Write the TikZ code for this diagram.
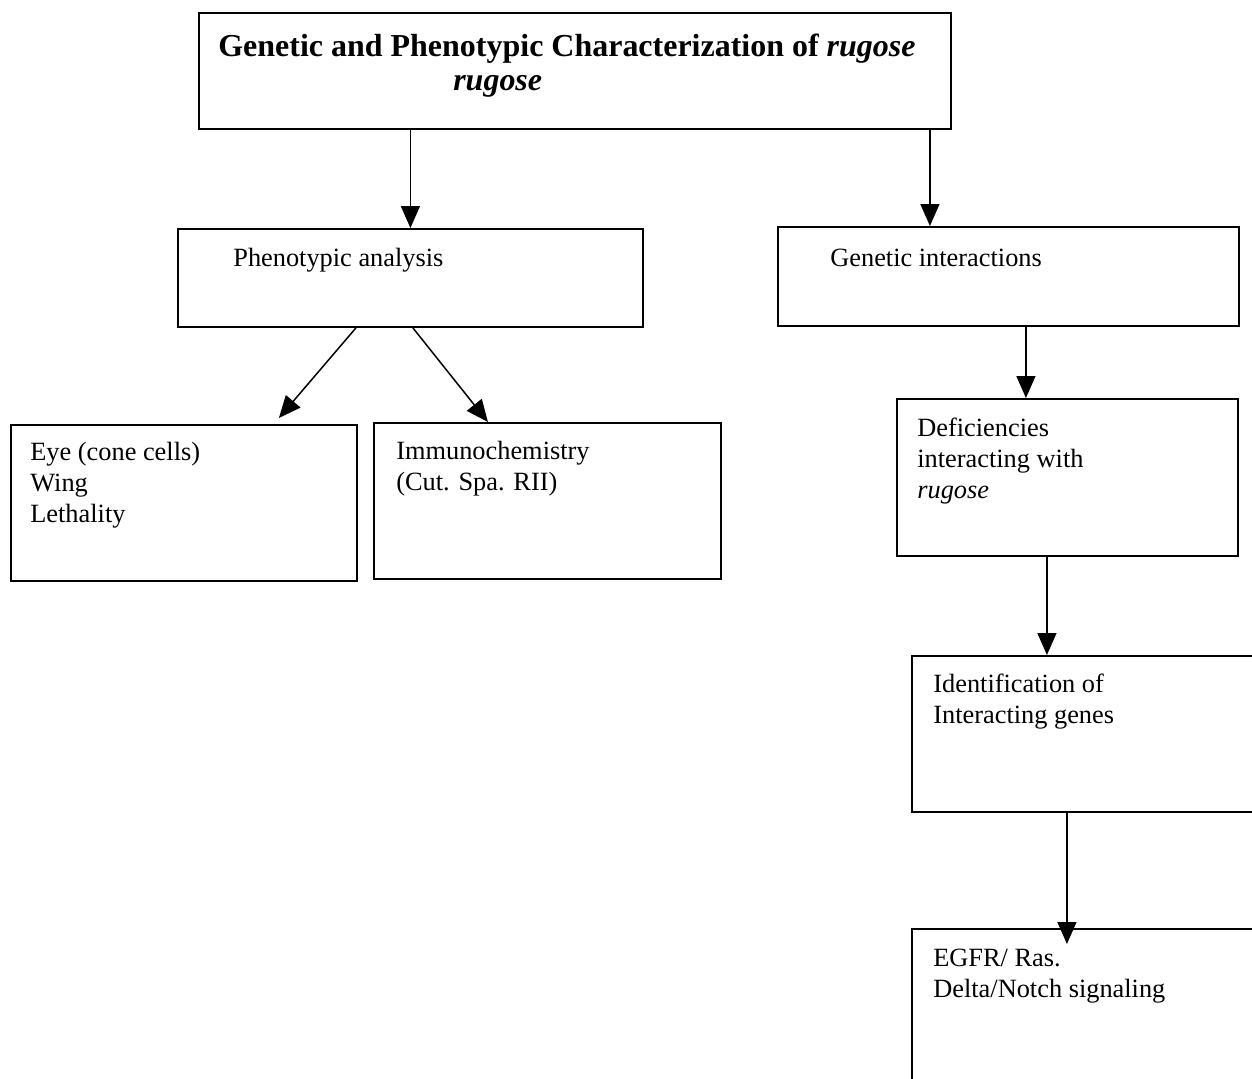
\documentclass[tikz,border=0pt]{standalone}
\usepackage{fontspec}
\setmainfont{Liberation Serif}
\usetikzlibrary{arrows.meta,calc}
\begin{document}
\begin{tikzpicture}[x=0.02cm,y=-0.02cm,
	khung/.style={rectangle, draw, line width=1.1pt, anchor=north west, inner sep=0pt},
	chu/.style={anchor=base west, align=left, inner sep=0pt, font=\fontsize{15}{17.6}\selectfont},
	mui/.style={-{Triangle[length=0.44cm,width=0.38cm]}, line width=0.85pt}]
				\useasboundingbox (0,0) rectangle (1252,1079);
				\path
				(198,12) node[khung, minimum width=15.04cm, minimum height=2.32cm](goc){}
				(177,228) node[khung, minimum width=9.3cm, minimum height=1.96cm](kh){}
				(777,226) node[khung, minimum width=9.22cm, minimum height=1.98cm](di){}
				(10,424) node[khung, minimum width=6.92cm, minimum height=3.12cm](mat){}
				(373,422) node[khung, minimum width=6.94cm, minimum height=3.12cm](mien){}
				(896,398) node[khung, minimum width=6.82cm, minimum height=3.14cm](thieu){}
				(911,655) node[khung, minimum width=7cm, minimum height=3.12cm](gen){}
				(911,928) node[khung, minimum width=7cm, minimum height=3.4cm](egfr){}
				;
				\path
				(218,90) node[chu, font=\fontsize{18.2}{18.8}\selectfont\bfseries](tgoc){Genetic and Phenotypic Characterization of \textit{rugose}\\\hspace*{4.7cm}\textit{rugose}}
				(233,266) node[chu](tkh){Phenotypic analysis}
				(830,266) node[chu](tdi){Genetic interactions}
				(30,522) node[chu](tmat){Eye (cone cells)\\Wing\\Lethality}
				(396,490) node[chu](tmien){Immunochemistry\\(Cut. Spa. RII)}
				(917,498) node[chu](tthieu){Deficiencies\\interacting with\\\textit{rugose}}
				(933,723) node[chu](tgen){Identification of\\Interacting genes}
				(933,997) node[chu](tegfr){EGFR/ Ras.\\Delta/Notch signaling}
				;
				\draw[mui] (kh.north |- goc.south)--(kh.north);
				\draw[mui] ([xshift=-1.57cm]di.north |- goc.south)--([xshift=-1.57cm]di.north);
				\draw[mui] ([xshift=-1.09cm]kh.south)--([xshift=1.9cm,yshift=0.12cm]mat.north);
				\draw[mui] ([xshift=0.05cm]kh.south)--([xshift=-1.19cm]mien.north);
				\draw[mui] ([xshift=-0.83cm]thieu.north |- di.south)--([xshift=-0.83cm]thieu.north);
				\draw[mui] ([xshift=-0.8cm]gen.north |- thieu.south)--([xshift=-0.8cm]gen.north);
				\draw[mui, shorten >=-0.32cm] ([xshift=-0.4cm]egfr.north |- gen.south)--([xshift=-0.4cm]egfr.north);
			\end{tikzpicture}
\end{document}
